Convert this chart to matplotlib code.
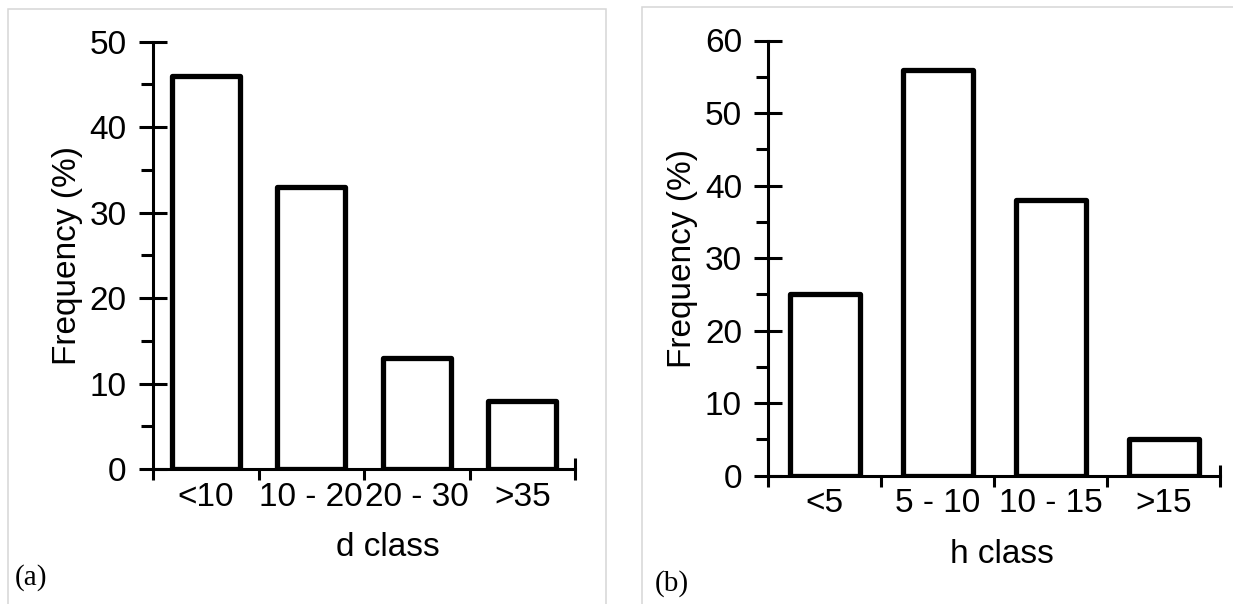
import matplotlib.pyplot as plt
from matplotlib.patches import Rectangle
from matplotlib.ticker import FixedLocator, NullFormatter

plt.rcParams['font.family'] = ['Liberation Sans', 'DejaVu Sans']

d_classes = ["<10", "10 - 20", "20 - 30", ">35"]
d_freq = [46, 33, 13, 8]

h_classes = ["<5", "5 - 10", "10 - 15", ">15"]
h_freq = [25, 56, 38, 5]

W, H = 1233, 604
fig = plt.figure(figsize=(W / 100, H / 100), dpi=100)

# light grey frames around each panel
fig.patches.append(Rectangle((8 / W, -0.05), (606 - 8) / W, 1.05 - 9 / H,
                             transform=fig.transFigure, fill=False,
                             edgecolor="#d6d6d6", lw=1.1))
fig.patches.append(Rectangle((642 / W, -0.05), 0.6, 1.05 - 7 / H,
                             transform=fig.transFigure, fill=False,
                             edgecolor="#d6d6d6", lw=1.1))

ax1 = fig.add_axes([153 / W, (H - 469) / H, (575 - 153) / W, (469 - 41.7) / H])
ax2 = fig.add_axes([768.3 / W, (H - 475.7) / H, (1220 - 768.3) / W, (475.7 - 40.5) / H])

FS = 24


def draw(ax, cats, vals, ymax, width, xlabel, xlab_x, tag, tagx, tagy):
    x = range(len(cats))
    ax.bar(x, vals, width=width, color="white", edgecolor="black",
           linewidth=3.8, joinstyle="round", zorder=3)
    ax.set_xlim(-0.5, len(cats) - 0.5)
    ax.set_ylim(0, ymax)
    for s in ["top", "right"]:
        ax.spines[s].set_visible(False)
    for s in ["left", "bottom"]:
        ax.spines[s].set_linewidth(2.2)
        ax.spines[s].set_zorder(4)

    ax.set_yticks(range(0, ymax + 1, 10))
    ax.yaxis.set_minor_locator(FixedLocator(list(range(5, ymax, 10))))
    ax.tick_params(axis="y", which="major", direction="inout", length=20,
                   width=2.2, labelsize=FS, pad=9)
    ax.tick_params(axis="y", which="minor", direction="out", length=9, width=2.2)

    ax.set_xticks(list(x))
    ax.set_xticklabels(cats)
    ax.xaxis.set_minor_locator(FixedLocator([i - 0.5 for i in range(len(cats) + 1)]))
    ax.xaxis.set_minor_formatter(NullFormatter())
    ax.tick_params(axis="x", which="major", direction="in", length=8,
                   width=2.2, labelsize=FS, pad=9)
    ax.tick_params(axis="x", which="minor", direction="out", length=8, width=2.2)
    last = ax.xaxis.get_minor_ticks(len(cats) + 1)[-1]
    last.tick1line.set_marker("|")
    last.tick1line.set_markersize(16)

    ax.set_ylabel("Frequency (%)", fontsize=FS, labelpad=5)
    ax.set_xlabel(xlabel, fontsize=FS, labelpad=14)
    ax.xaxis.label.set_x(xlab_x)
    fig.text(tagx / W, 1 - tagy / H, tag, family="Liberation Serif",
             fontsize=21, ha="left", va="center")


draw(ax1, d_classes, d_freq, 50, 0.64, "d class", 0.557, "(a)", 15, 578)
draw(ax2, h_classes, h_freq, 60, 0.62, "h class", 0.518, "(b)", 655, 584)

plt.savefig("out.png", dpi=100)
